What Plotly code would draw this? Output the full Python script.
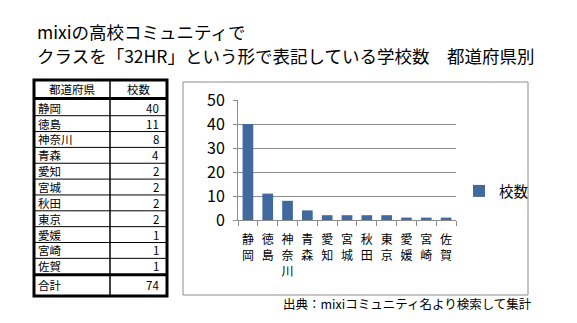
import plotly.graph_objects as go

W, H = 577, 323

# ---- data ----
prefs = ["静岡", "徳島", "神奈川", "青森", "愛知", "宮城", "秋田", "東京", "愛媛", "宮崎", "佐賀"]
counts = [40, 11, 8, 4, 2, 2, 2, 2, 1, 1, 1]
series_name = "校数"
table_header = ["都道府県", "校数"]
total_label = "合計"
y_ticks = [0, 10, 20, 30, 40, 50]
title_lines = ["mixiの高校コミュニティで", "クラスを「32HR」という形で表記している学校数\u3000都道府県別"]
source_text = "出典：mixiコミュニティ名より検索して集計"

FONT = "Noto Sans CJK JP, Noto Sans, sans-serif"
BAR_COLOR = "#406a9e"
GRID = "#8c8c8c"


def px(x):
    return x / W


def py(y):
    return 1 - y / H


fig = go.Figure()
fig.add_trace(go.Bar(
    x=prefs, y=counts, name=series_name, marker=dict(color=BAR_COLOR, line=dict(width=0)),
    showlegend=True,
))

shapes = []
annotations = []

# chart frame
shapes.append(dict(type="rect", xref="paper", yref="paper", x0=px(183), x1=px(528), y0=py(295), y1=py(82),
                   line=dict(color="#8c8c8c", width=1), layer="below"))

# ---- table ----
tl, tr, tc = 34, 167, 110
ttop, thead, tbot = 80, 98.5, 296
row_p = 15.85
row0 = 99.85
tot_line = row0 + len(prefs) * row_p + 0.5

for i in range(1, len(prefs)):
    y = row0 + i * row_p
    shapes.append(dict(type="line", xref="paper", yref="paper", x0=px(tl), x1=px(tr), y0=py(y), y1=py(y),
                       line=dict(color="black", width=1)))
shapes.append(dict(type="line", xref="paper", yref="paper", x0=px(tc), x1=px(tc), y0=py(ttop), y1=py(tbot),
                   line=dict(color="black", width=1.5)))
for y in (thead, tot_line):
    shapes.append(dict(type="line", xref="paper", yref="paper", x0=px(tl), x1=px(tr), y0=py(y), y1=py(y),
                       line=dict(color="black", width=3)))
shapes.append(dict(type="rect", xref="paper", yref="paper", x0=px(tl), x1=px(tr), y0=py(tbot), y1=py(ttop),
                   line=dict(color="black", width=3)))

tfont = dict(family=FONT, size=11.5, color="black")
hy = (ttop + thead) / 2
annotations.append(dict(text=table_header[0], x=px((tl + tc) / 2), y=py(hy), xref="paper", yref="paper",
                        showarrow=False, xanchor="center", yanchor="middle", font=tfont))
annotations.append(dict(text=table_header[1], x=px((tc + tr) / 2), y=py(hy), xref="paper", yref="paper",
                        showarrow=False, xanchor="center", yanchor="middle", font=tfont))
for i, (p, c) in enumerate(zip(prefs, counts)):
    yc = row0 + (i + 0.5) * row_p
    annotations.append(dict(text=p, x=px(tl + 1.5), y=py(yc), xref="paper", yref="paper", showarrow=False,
                            xanchor="left", yanchor="middle", font=tfont))
    annotations.append(dict(text=str(c), x=px(tr - 6), y=py(yc), xref="paper", yref="paper", showarrow=False,
                            xanchor="right", yanchor="middle", font=tfont))
yc = (tot_line + tbot) / 2
annotations.append(dict(text=total_label, x=px(tl + 1.5), y=py(yc), xref="paper", yref="paper", showarrow=False,
                        xanchor="left", yanchor="middle", font=tfont))
annotations.append(dict(text=str(sum(counts)), x=px(tr - 6), y=py(yc), xref="paper", yref="paper", showarrow=False,
                        xanchor="right", yanchor="middle", font=tfont))

# ---- title ----
for ln, yc in zip(title_lines, (31.5, 55.5)):
    annotations.append(dict(text=ln, x=px(35), y=py(yc), xref="paper", yref="paper", showarrow=False,
                            xanchor="left", yanchor="middle", font=dict(family=FONT, size=17.5, color="black")))

# ---- source ----
annotations.append(dict(text=source_text, x=px(534), y=py(303), xref="paper", yref="paper", showarrow=False,
                        xanchor="right", yanchor="middle", font=dict(family=FONT, size=12.5, color="black")))

fig.update_layout(
    width=W, height=H,
    margin=dict(l=0, r=0, t=0, b=0, autoexpand=False),
    paper_bgcolor="white", plot_bgcolor="white",
    bargap=0.46,
    font=dict(family=FONT, color="black"),
    shapes=shapes,
    annotations=annotations,
    legend=dict(x=px(459), y=py(191), xanchor="left", yanchor="middle", bgcolor="rgba(0,0,0,0)",
                font=dict(family=FONT, size=14.5, color="black")),
    xaxis=dict(
        domain=[px(238), px(456)],
        type="category",
        tickvals=prefs,
        ticktext=["<br>".join(p) for p in prefs],
        tickangle=0,
        tickfont=dict(family=FONT, size=12, color="black"),
        ticks="outside", tickson="boundaries", ticklen=5, tickcolor=GRID,
        showline=True, linecolor=GRID, linewidth=1,
        showgrid=False, automargin=False,
        ticklabelstandoff=9,
        anchor="y",
    ),
    yaxis=dict(
        domain=[py(220), py(100)],
        range=[0, 50],
        tickvals=y_ticks,
        tickfont=dict(family=FONT, size=16, color="black"),
        ticks="outside", ticklen=4, tickcolor=GRID,
        showline=True, linecolor=GRID, linewidth=1,
        showgrid=True, gridcolor=GRID, gridwidth=1,
        zeroline=False, automargin=False,
        ticklabelstandoff=5,
    ),
)

fig.write_html("out.html")
